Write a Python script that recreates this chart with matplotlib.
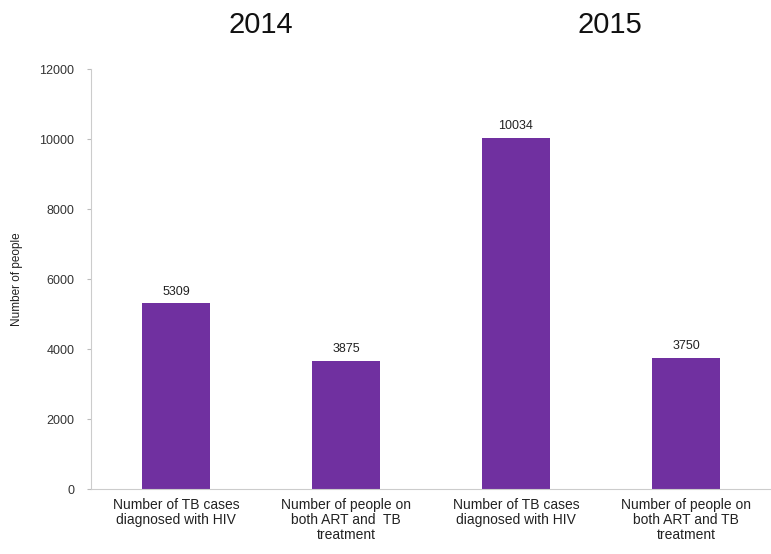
import numpy as np
import matplotlib.pyplot as plt

plt.rcParams['font.family'] = ['Liberation Sans', 'DejaVu Sans']

years = ["2014", "2015"]
categories = [
    "Number of TB cases\ndiagnosed with HIV",
    "Number of people on\nboth ART and  TB\ntreatment",
    "Number of TB cases\ndiagnosed with HIV",
    "Number of people on\nboth ART and TB\ntreatment",
]
values = [5309, 3675, 10034, 3750]
value_labels = ["5309", "3875", "10034", "3750"]
yticks = [0, 2000, 4000, 6000, 8000, 10000, 12000]

fig = plt.figure(figsize=(7.71, 5.54), dpi=100)
ax = fig.add_axes([0.118, 0.117, 0.882, 0.758])

x = np.arange(len(values))
bars = ax.bar(x, values, width=0.4, color="#7030a0")

for xi, v, lab in zip(x, values, value_labels):
    ax.annotate(lab, (xi, v), xytext=(0, 4), textcoords="offset points",
                ha="center", va="bottom", fontsize=9, color="#222222")

ax.set_xlim(-0.5, len(values) - 0.5)
ax.set_ylim(0, 12000)
ax.set_yticks(yticks)
ax.set_yticklabels([str(t) for t in yticks], fontsize=9, color="#333333")
ax.set_xticks(x)
ax.set_xticklabels(categories, fontsize=10, color="#222222", linespacing=1.1)
ax.tick_params(axis="x", length=0, pad=6)
ax.tick_params(axis="y", length=3, color="#bbbbbb", pad=9)
ax.set_ylabel("Number of people", fontsize=8.5, color="#222222", labelpad=12)

for s in ["top", "right"]:
    ax.spines[s].set_visible(False)
for s in ["left", "bottom"]:
    ax.spines[s].set_color("#cccccc")
    ax.spines[s].set_linewidth(0.8)

# year headings over each pair of bars
for i, yr in enumerate(years):
    fig.text(ax.transData.transform((2 * i + 0.5 + 0.05 * i, 0))[0] / fig.bbox.width,
             0.955, yr, ha="center", va="center", fontsize=21, color="#111111")

fig.savefig("out.png", dpi=100)
